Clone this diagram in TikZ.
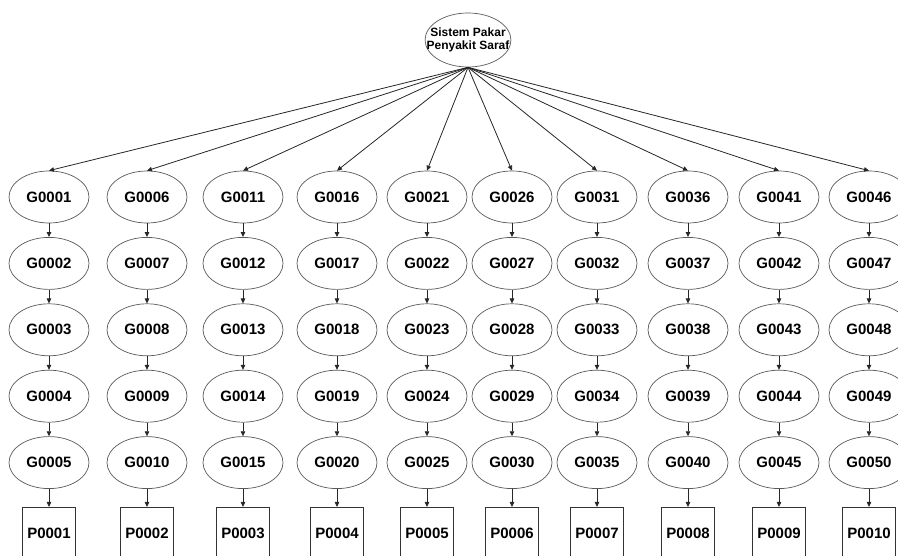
\documentclass[tikz,border=0pt]{standalone}
\usepackage{fontspec}
\setmainfont{Liberation Sans}
\usetikzlibrary{arrows.meta,positioning,shapes.geometric}
\newcommand{\duadigit}[1]{\ifnum#1<10 0\fi#1}
\tikzset{
 gejala/.style={draw=black!65,line width=0.7pt,ellipse,minimum width=80pt,
             minimum height=52pt,inner sep=0pt,font=\fontsize{15}{18}\selectfont\bfseries},
 penyakit/.style={draw=black!80,line width=0.7pt,minimum width=53pt,
             minimum height=52pt,inner sep=0pt,font=\fontsize{15}{18}\selectfont\bfseries},
 root/.style={draw=black!65,line width=0.7pt,ellipse,minimum width=85pt,
             minimum height=54pt,inner xsep=-11pt,inner ysep=0pt,align=center,
             font=\fontsize{12}{13.5}\selectfont\bfseries},
 arrow/.style={-{Triangle[length=5pt,width=4.5pt]},line width=0.8pt,black!85}
}
\begin{document}
\begin{tikzpicture}[x=1pt,y=1pt,node distance=13.7pt]
\useasboundingbox (0,0) rectangle (898,-556);
\node[root] (sistem) at (468,-40) {Sistem Pakar\\Penyakit Saraf};
\foreach \x [count=\c] in {49,147,243,337,427,512,597,688,779,869}{
  \pgfmathtruncatemacro{\n}{5*\c-4}
  \node[gejala] (g\n) at (\x,-197) {G00\duadigit{\n}};
  \draw[arrow] (sistem.south)--(g\n.north);
  \foreach \r in {1,...,4}{
    \pgfmathtruncatemacro{\m}{\n+\r}
    \pgfmathtruncatemacro{\k}{\m-1}
    \node[gejala,below=of g\k] (g\m) {G00\duadigit{\m}};
    \draw[arrow] (g\k)--(g\m);
  }
  \pgfmathtruncatemacro{\m}{\n+4}
  \node[penyakit,below=18pt of g\m] (p\c) {P00\duadigit{\c}};
  \draw[arrow] (g\m)--(p\c);
}
\end{tikzpicture}
\end{document}
